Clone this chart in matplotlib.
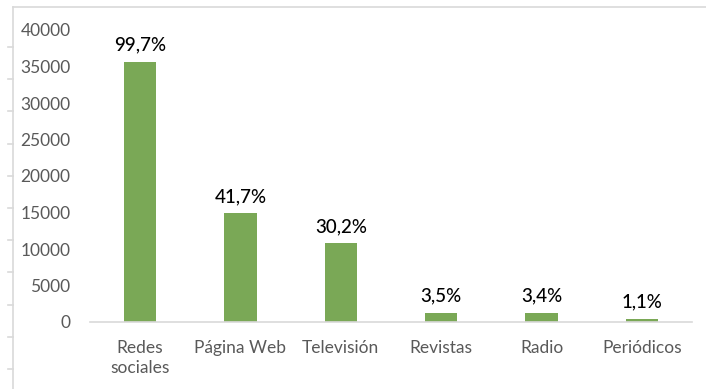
import matplotlib.pyplot as plt
from matplotlib.lines import Line2D

medios = ["Redes\nsociales", "Página Web", "Televisión", "Revistas", "Radio", "Periódicos"]
respuestas = [35600, 14890, 10780, 1250, 1215, 395]
porcentajes = ["99,7%", "41,7%", "30,2%", "3,5%", "3,4%", "1,1%"]
yticks = [0, 5000, 10000, 15000, 20000, 25000, 30000, 35000, 40000]

plt.rcParams['font.family'] = ['Lato', 'DejaVu Sans']

W, H = 706, 389
fig = plt.figure(figsize=(W / 100, H / 100), dpi=100)
ax = fig.add_axes([90 / W, 67 / H, 602 / W, 292 / H])

x = range(len(medios))
bars = ax.bar(x, respuestas, width=0.32, color="#7aa856", zorder=2)
for b, txt in zip(bars, porcentajes):
    ax.annotate(txt, (b.get_x() + b.get_width() / 2, b.get_height()),
                xytext=(0, 6), textcoords="offset points",
                ha="center", va="bottom", fontsize=13.5, fontweight="medium",
                color="#000000")

ax.set_xlim(-0.5, len(medios) - 0.5)
ax.set_ylim(0, 40000)
ax.set_yticks(yticks)
ax.set_yticklabels([str(v) for v in yticks])
ax.set_xticks(list(x))
ax.set_xticklabels(medios, linespacing=1.3)
ax.tick_params(axis="both", length=0, colors="#595959", labelsize=12.5)
ax.tick_params(axis="y", pad=14)
ax.tick_params(axis="x", pad=13)

for s in ["top", "right", "left"]:
    ax.spines[s].set_visible(False)
ax.spines["bottom"].set_color("#d9d9d9")
ax.spines["bottom"].set_linewidth(1.2)

# outer frame with ruler marks on the left
frame = "#d9d9d9"
fig.add_artist(Line2D([13 / W, 1], [1 - 7 / H, 1 - 7 / H], color=frame, lw=1.2))
fig.add_artist(Line2D([13 / W, 13 / W], [0, 1 - 7 / H], color=frame, lw=1.2))
for k in range(11):
    yp = 47 + k * 32.2
    fig.add_artist(Line2D([8 / W, 13 / W], [1 - yp / H, 1 - yp / H], color=frame, lw=1.2))

fig.savefig("out.png", dpi=100)
